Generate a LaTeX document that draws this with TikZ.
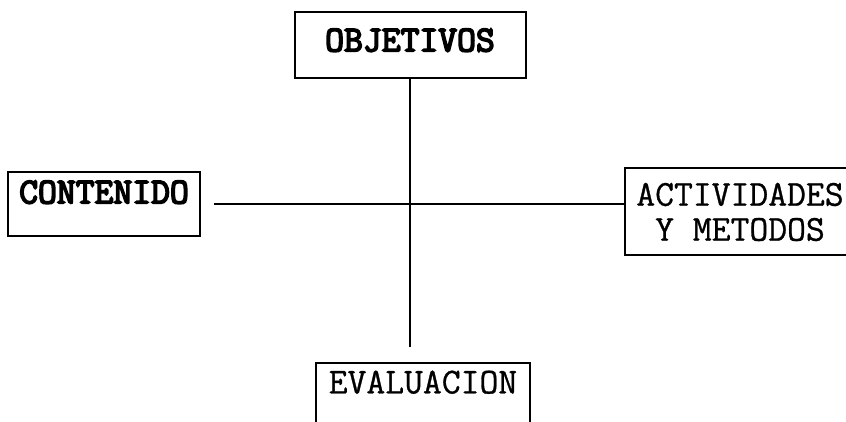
\documentclass[tikz,border=0pt]{standalone}
\usepackage{fontspec}
\newfontfamily\cajafont[FakeBold=0.8]{Latin Modern Mono}
\newfontfamily\negritafont[FakeBold=4.5]{Latin Modern Mono}
\begin{document}
\begin{tikzpicture}[x=0.5pt,y=-0.5pt,
  caja/.style={draw,line width=1pt,inner sep=0pt,align=center,font=\cajafont\fontsize{18.3}{17.5}\selectfont},
  negrita/.style={font=\negritafont\fontsize{18.3}{17.5}\selectfont},
  linea/.style={line width=1pt}]
\useasboundingbox(0,0) rectangle (846,422);
\clip(0,0) rectangle (846,422);
\node[caja,negrita,text depth=5pt,minimum width=115.5pt,minimum height=33pt](objetivos) at (410,45){OBJETIVOS};
\node[caja,negrita,text depth=12pt,minimum width=96pt,minimum height=32pt](contenido) at (104,204){CONTENIDO};
\node[caja,minimum width=115pt,minimum height=43.5pt](actividades) at (740,212){ACTIVIDADES\\Y METODOS};
\node[caja,text depth=15pt,minimum width=107pt,minimum height=34pt](evaluacion) at (423,397){EVALUACION};
\coordinate(abajo) at (410,347);
\draw[linea](objetivos.south)--(abajo);
\draw[linea,shorten <=6.5pt](contenido.east)--(contenido.east -| actividades.west);
\end{tikzpicture}
\end{document}
